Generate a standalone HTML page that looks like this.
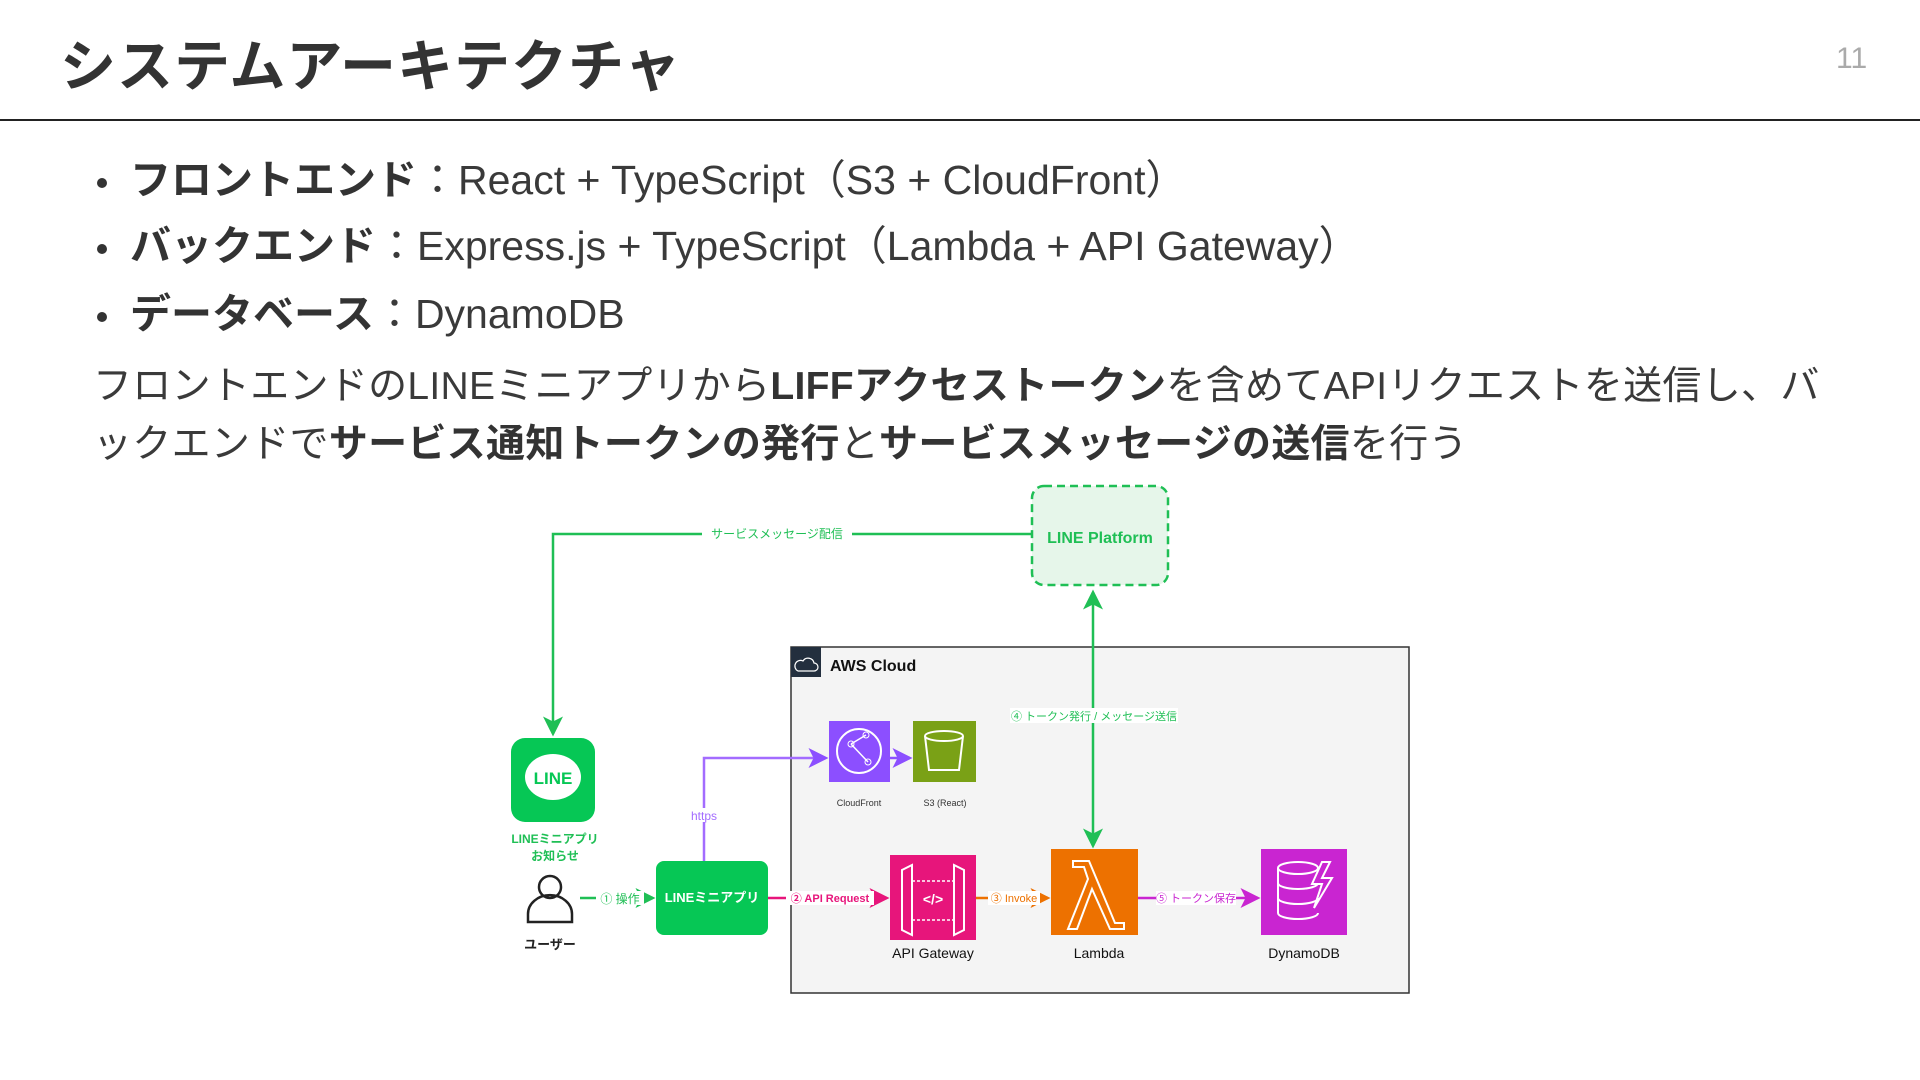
<!DOCTYPE html>
<html><head><meta charset="utf-8"><style>
*{margin:0;padding:0;box-sizing:border-box}
body{width:1920px;height:1080px;background:#fff;position:relative;overflow:hidden;font-family:"Liberation Sans","Noto Sans CJK JP",sans-serif;color:#3a3a3a}
.a{position:absolute;white-space:nowrap}
h1{position:absolute;left:60px;top:22px;font-size:56px;font-weight:700;color:#333;letter-spacing:1px}
.pn{position:absolute;left:1836px;top:42px;font-size:30px;color:#aaa}
.hr{position:absolute;left:0;top:119px;width:1920px;height:2px;background:#222}
.bl{position:absolute;left:97px;font-size:41px;line-height:48px;white-space:nowrap}
.bl b{font-weight:700;color:#333}
.bl:before{content:"";position:absolute;left:0;top:22px;width:10px;height:10px;border-radius:50%;background:#333}
.bl span{margin-left:33px}
.p{position:absolute;left:93px;top:358px;width:1900px;font-size:39px;line-height:58px;white-space:nowrap;letter-spacing:0.3px}
.p b{font-weight:700;color:#333}
</style></head><body>
<h1>システムアーキテクチャ</h1>
<div class="pn">11</div>
<div class="hr"></div>
<div class="bl" style="top:156px"><span><b>フロントエンド</b>：React + TypeScript（S3 + CloudFront）</span></div>
<div class="bl" style="top:222px"><span><b>バックエンド</b>：Express.js + TypeScript（Lambda + API Gateway）</span></div>
<div class="bl" style="top:290px"><span><b>データベース</b>：DynamoDB</span></div>
<div class="p">フロントエンドのLINEミニアプリから<b>LIFFアクセストークン</b>を含めてAPIリクエストを送信し、バ<br>ックエンドで<b>サービス通知トークンの発行</b>と<b>サービスメッセージの送信</b>を行う</div>

<svg class="a" style="left:0;top:0" width="1920" height="1080" font-family="Liberation Sans, Noto Sans CJK JP, sans-serif">
<defs>
<marker id="g" markerWidth="8" markerHeight="8" refX="7" refY="4" orient="auto"><path d="M0,0L8,4L0,8L2,4z" fill="#1fbf55"/></marker>
<marker id="gs" markerWidth="8" markerHeight="8" refX="1" refY="4" orient="auto"><path d="M8,0L0,4L8,8L6,4z" fill="#1fbf55"/></marker>
<marker id="pu" markerWidth="8" markerHeight="8" refX="7" refY="4" orient="auto"><path d="M0,0L8,4L0,8L2,4z" fill="#8c4fff"/></marker>
<marker id="pk" markerWidth="8" markerHeight="8" refX="7" refY="4" orient="auto"><path d="M0,0L8,4L0,8L2,4z" fill="#e7157b"/></marker>
<marker id="or" markerWidth="8" markerHeight="8" refX="7" refY="4" orient="auto"><path d="M0,0L8,4L0,8L2,4z" fill="#ed7100"/></marker>
<marker id="mg" markerWidth="8" markerHeight="8" refX="7" refY="4" orient="auto"><path d="M0,0L8,4L0,8L2,4z" fill="#c925d1"/></marker>
</defs>
<rect x="791" y="647" width="618" height="346" fill="#f4f4f4" stroke="#333" stroke-width="1.5"/>
<rect x="791" y="647" width="30" height="30" fill="#232f3e"/>
<path d="M798,671h16a4,4 0 0 0 0-8a6,6 0 0 0-11-2a4,4 0 0 0-5,10z" fill="none" stroke="#fff" stroke-width="1.2"/>
<text x="830" y="671" font-size="16" font-weight="700" fill="#111">AWS Cloud</text>
<rect x="1032" y="486" width="136" height="99" rx="12" fill="#e6f6ea" stroke="#1fbf55" stroke-width="2.5" stroke-dasharray="8,5"/>
<text x="1100" y="543" font-size="16" font-weight="700" fill="#1fbf55" text-anchor="middle">LINE Platform</text>
<path d="M1032,534H553V734" fill="none" stroke="#1fbf55" stroke-width="2.5" marker-end="url(#g)"/>
<rect x="702" y="526" width="150" height="16" fill="#fff"/>
<text x="777" y="538" font-size="12" fill="#1fbf55" text-anchor="middle">サービスメッセージ配信</text>
<path d="M1093,592V846" fill="none" stroke="#1fbf55" stroke-width="2.5" marker-end="url(#g)" marker-start="url(#gs)"/>
<rect x="1010" y="708" width="168" height="15" fill="#fff"/>
<text x="1094" y="720" font-size="11" fill="#1fbf55" text-anchor="middle">④ トークン発行 / メッセージ送信</text>
<rect x="511" y="738" width="84" height="84" rx="14" fill="#06c755"/>
<ellipse cx="553" cy="777" rx="28" ry="23" fill="#fff"/>
<path d="M548,797l10,-6l-10,0z" fill="#fff"/>
<text x="553" y="784" font-size="17" font-weight="700" fill="#06c755" text-anchor="middle">LINE</text>
<text x="555" y="843" font-size="12" font-weight="700" fill="#1fbf55" text-anchor="middle">LINEミニアプリ</text>
<text x="555" y="860" font-size="12" font-weight="700" fill="#1fbf55" text-anchor="middle">お知らせ</text>
<circle cx="550" cy="887" r="11" fill="none" stroke="#222" stroke-width="2.5"/>
<path d="M528,922v-8a14,12 0 0 1 44,0v8z" fill="none" stroke="#222" stroke-width="2.5"/>
<text x="550" y="949" font-size="13" font-weight="700" fill="#222" text-anchor="middle">ユーザー</text>
<path d="M580,898H653" stroke="#1fbf55" stroke-width="2.5" marker-end="url(#g)"/>
<rect x="596" y="891" width="48" height="14" fill="#fff"/>
<text x="620" y="903" font-size="12" fill="#1fbf55" text-anchor="middle">① 操作</text>
<rect x="656" y="861" width="112" height="74" rx="8" fill="#06c755"/>
<text x="712" y="902" font-size="13" font-weight="700" fill="#fff" text-anchor="middle">LINEミニアプリ</text>
<path d="M704,861V758H826" fill="none" stroke="#a36cff" stroke-width="2.5" marker-end="url(#pu)"/>
<rect x="690" y="808" width="28" height="14" fill="#fff"/>
<text x="704" y="820" font-size="12" fill="#a36cff" text-anchor="middle">https</text>
<rect x="829" y="721" width="61" height="61" fill="#8c4fff"/>
<circle cx="859" cy="751" r="22" fill="none" stroke="#fff" stroke-width="2"/>
<path d="M851,744L866,735M851,744L868,762" stroke="#fff" stroke-width="1.5"/>
<circle cx="851" cy="744" r="3" fill="none" stroke="#fff"/><circle cx="866" cy="735" r="3" fill="none" stroke="#fff"/><circle cx="868" cy="762" r="3" fill="none" stroke="#fff"/>
<text x="859" y="806" font-size="9" fill="#333" text-anchor="middle">CloudFront</text>
<path d="M890,758H910" stroke="#8c4fff" stroke-width="2.5" marker-end="url(#pu)"/>
<rect x="913" y="721" width="63" height="61" fill="#7aa116"/>
<ellipse cx="944" cy="736" rx="19" ry="5" fill="none" stroke="#fff" stroke-width="2"/>
<path d="M925,736l4,34h30l4,-34" fill="none" stroke="#fff" stroke-width="2"/>
<text x="945" y="806" font-size="9" fill="#333" text-anchor="middle">S3 (React)</text>
<path d="M768,898H887" stroke="#e7157b" stroke-width="2.5" marker-end="url(#pk)"/>
<rect x="786" y="891" width="88" height="14" fill="#fff"/>
<text x="830" y="902" font-size="11" font-weight="700" fill="#e7157b" text-anchor="middle">② API Request</text>
<rect x="890" y="855" width="86" height="85" fill="#e7157b"/>
<path d="M902,870l10,-5v70l-10,-5zM964,870l-10,-5v70l10,-5z" fill="none" stroke="#fff" stroke-width="2"/>
<path d="M912,881h42M912,920h42" stroke="#fff" stroke-width="1.5" stroke-dasharray="3,2"/>
<text x="933" y="904" font-size="14" font-weight="700" fill="#fff" text-anchor="middle">&lt;/&gt;</text>
<text x="933" y="958" font-size="14" fill="#111" text-anchor="middle">API Gateway</text>
<path d="M976,898H1048" stroke="#ed7100" stroke-width="2.5" marker-end="url(#or)"/>
<rect x="988" y="891" width="52" height="14" fill="#fff"/>
<text x="1014" y="902" font-size="11" fill="#ed7100" text-anchor="middle">③ Invoke</text>
<rect x="1051" y="849" width="87" height="86" fill="#ed7100"/>
<path d="M1073,861h16l26,62h9v6h-14l-18,-40l-15,40h-9l20,-50l-4,-12h-11z" fill="none" stroke="#fff" stroke-width="2"/>
<text x="1099" y="958" font-size="14" fill="#111" text-anchor="middle">Lambda</text>
<path d="M1138,898H1258" stroke="#c925d1" stroke-width="2.5" marker-end="url(#mg)"/>
<rect x="1156" y="891" width="80" height="14" fill="#fff"/>
<text x="1196" y="902" font-size="11" fill="#c925d1" text-anchor="middle">⑤ トークン保存</text>
<rect x="1261" y="849" width="86" height="86" fill="#c925d1"/>
<ellipse cx="1298" cy="868" rx="20" ry="6" fill="none" stroke="#fff" stroke-width="2"/>
<path d="M1278,868v45a20,6 0 0 0 40,0M1278,883a20,6 0 0 0 40,0M1278,898a20,6 0 0 0 40,0" fill="none" stroke="#fff" stroke-width="2"/>
<path d="M1322,862l-10,22h10l-8,24l18,-30h-10l8,-16z" fill="none" stroke="#fff" stroke-width="2"/>
<text x="1304" y="958" font-size="14" fill="#111" text-anchor="middle">DynamoDB</text>
</svg>
</body></html>
